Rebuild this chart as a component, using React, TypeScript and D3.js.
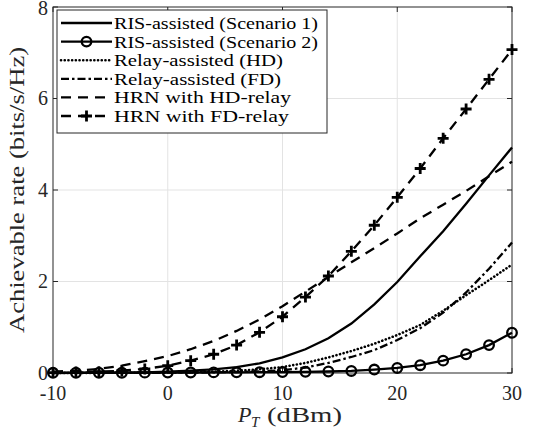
import React from 'react';
import * as d3 from 'd3';

// transmit power grid (dBm)
const powerDbm = [-10, -8, -6, -4, -2, 0, 2, 4, 6, 8, 10, 12, 14, 16, 18, 20, 22, 24, 26, 28, 30];

const risScenario1 = [0.0, 0.002, 0.004, 0.008, 0.015, 0.03, 0.05, 0.08, 0.13, 0.21, 0.34, 0.52, 0.76, 1.08, 1.5, 1.99, 2.55, 3.1, 3.7, 4.32, 4.93];
const risScenario2 = [0.004, 0.005, 0.006, 0.007, 0.008, 0.01, 0.011, 0.013, 0.015, 0.018, 0.021, 0.026, 0.033, 0.045, 0.075, 0.11, 0.17, 0.27, 0.41, 0.61, 0.88];
const relayHD = [0.001, 0.002, 0.003, 0.005, 0.008, 0.012, 0.02, 0.03, 0.05, 0.08, 0.13, 0.22, 0.34, 0.48, 0.64, 0.83, 1.05, 1.36, 1.7, 2.03, 2.37];
const relayFD = [0.0005, 0.001, 0.002, 0.003, 0.004, 0.006, 0.009, 0.014, 0.02, 0.035, 0.06, 0.12, 0.22, 0.35, 0.5, 0.72, 0.98, 1.32, 1.76, 2.28, 2.85];
const hrnHD = [0.03, 0.05, 0.09, 0.16, 0.26, 0.37, 0.52, 0.7, 0.92, 1.17, 1.46, 1.78, 2.1, 2.42, 2.73, 3.05, 3.38, 3.68, 3.98, 4.3, 4.62];
const hrnFD = [0.01, 0.02, 0.03, 0.05, 0.09, 0.16, 0.27, 0.41, 0.61, 0.89, 1.23, 1.66, 2.12, 2.66, 3.23, 3.84, 4.47, 5.13, 5.77, 6.42, 7.07];

const xTicks = [-10, 0, 10, 20, 30];
const yTicks = [0, 2, 4, 6, 8];

const seriesNames = [
    'RIS-assisted (Scenario 1)',
    'RIS-assisted (Scenario 2)',
    'Relay-assisted (HD)',
    'Relay-assisted (FD)',
    'HRN with HD-relay',
    'HRN with FD-relay',
];
// rendered widths of the legend labels (the original font is wider than ours)
const legendWidths = [204, 204, 169, 167, 177, 175];

const W = 550;
const H = 436;
const FONT = '"Liberation Serif", "DejaVu Serif", serif';
const INK = '#262626';

type Marker = 'none' | 'circle' | 'plus';

const series: { name: string; values: number[]; dash: string; marker: Marker }[] = [
    { name: seriesNames[0], values: risScenario1, dash: '', marker: 'none' },
    { name: seriesNames[1], values: risScenario2, dash: '', marker: 'circle' },
    { name: seriesNames[2], values: relayHD, dash: '0.1,3.6', marker: 'none' },
    { name: seriesNames[3], values: relayFD, dash: '8,3,2.5,3', marker: 'none' },
    { name: seriesNames[4], values: hrnHD, dash: '10,7', marker: 'none' },
    { name: seriesNames[5], values: hrnFD, dash: '10,7', marker: 'plus' },
];

function MarkerShape({ kind, x, y }: { kind: Marker; x: number; y: number }) {
    if (kind === 'circle') {
        return <circle cx={x} cy={y} r={4.8} fill="none" stroke="#000" strokeWidth={2.3} />;
    }
    if (kind === 'plus') {
        const s = 5.5;
        return (
            <path
                d={`M${x - s},${y}H${x + s}M${x},${y - s}V${y + s}`}
                stroke="#000"
                strokeWidth={2.8}
                fill="none"
            />
        );
    }
    return null;
}

export default function App() {
    const x = d3.scaleLinear().domain([-10, 30]).range([53, 512]);
    const y = d3.scaleLinear().domain([0, 8]).range([373, 7]);

    const line = d3
        .line<number>()
        .x((_, i) => x(powerDbm[i]))
        .y((d) => y(d));

    const [x0, x1] = x.range();
    const [y0, y1] = y.range();
    const tickLen = 5;

    // legend box
    const lg = { left: 57, top: 10, right: 327, bottom: 133 };
    const rowH = 18.6;
    const firstRow = 23;

    return (
        <svg
            width={W}
            height={H}
            viewBox={`0 0 ${W} ${H}`}
            style={{ position: 'absolute', left: 0, top: 0, background: '#fff' }}
            fontFamily={FONT}
        >
            <rect width={W} height={H} fill="#fff" />

            {/* grid */}
            {xTicks.slice(1, -1).map((t) => (
                <line key={`gx${t}`} x1={x(t)} x2={x(t)} y1={y0} y2={y1} stroke="#e3e3e3" strokeWidth={1} />
            ))}
            {yTicks.slice(1, -1).map((t) => (
                <line key={`gy${t}`} x1={x0} x2={x1} y1={y(t)} y2={y(t)} stroke="#e3e3e3" strokeWidth={1} />
            ))}

            {/* box + inward ticks */}
            <rect x={x0} y={y1} width={x1 - x0} height={y0 - y1} fill="none" stroke={INK} strokeWidth={1} />
            {xTicks.map((t) => (
                <g key={`tx${t}`}>
                    <line x1={x(t)} x2={x(t)} y1={y0} y2={y0 - tickLen} stroke={INK} />
                    <line x1={x(t)} x2={x(t)} y1={y1} y2={y1 + tickLen} stroke={INK} />
                    <text x={x(t)} y={y0 + 27} textAnchor="middle" fontSize={20} fill={INK}>
                        {t}
                    </text>
                </g>
            ))}
            {yTicks.map((t) => (
                <g key={`ty${t}`}>
                    <line x1={x0} x2={x0 + tickLen} y1={y(t)} y2={y(t)} stroke={INK} />
                    <line x1={x1} x2={x1 - tickLen} y1={y(t)} y2={y(t)} stroke={INK} />
                    <text x={x0 - 5} y={Math.max(y(t) + 6.5, 15)} textAnchor="end" fontSize={20} fill={INK}>
                        {t}
                    </text>
                </g>
            ))}

            {/* axis labels */}
            <text x={238} y={y0 + 49} fontSize={22} fontStyle="italic" fill={INK}>
                P
            </text>
            <text x={251} y={y0 + 54} fontSize={15} fontStyle="italic" fill={INK}>
                T
            </text>
            <text
                x={267}
                y={y0 + 49}
                fontSize={22}
                textLength={75}
                lengthAdjust="spacingAndGlyphs"
                fill={INK}
            >
                (dBm)
            </text>
            <text
                transform={`translate(24,${(y0 + y1) / 2}) rotate(-90)`}
                textAnchor="middle"
                fontSize={20}
                textLength={286}
                lengthAdjust="spacingAndGlyphs"
                fill={INK}
            >
                Achievable rate (bits/s/Hz)
            </text>

            {/* series */}
            {series.map((s, si) => (
                <g key={s.name}>
                    <path
                        d={line(s.values) ?? ''}
                        fill="none"
                        stroke="#000"
                        strokeWidth={si === 2 ? 2.6 : 2.3}
                        strokeDasharray={s.dash || undefined}
                        strokeLinecap={si === 2 ? 'round' : 'butt'}
                    />
                    {s.marker !== 'none' &&
                        s.values.map((v, i) => <MarkerShape key={i} kind={s.marker} x={x(powerDbm[i])} y={y(v)} />)}
                </g>
            ))}

            {/* legend */}
            <rect
                x={lg.left}
                y={lg.top}
                width={lg.right - lg.left}
                height={lg.bottom - lg.top}
                fill="#fff"
                stroke={INK}
                strokeWidth={1}
            />
            {series.map((s, i) => {
                const cy = firstRow + rowH * i;
                const lx0 = lg.left + 4;
                const lx1 = lg.left + 55;
                return (
                    <g key={`lg${i}`}>
                        <line
                            x1={lx0}
                            x2={lx1}
                            y1={cy}
                            y2={cy}
                            stroke="#000"
                            strokeWidth={i === 2 ? 2.6 : 2.3}
                            strokeDasharray={s.dash || undefined}
                            strokeLinecap={i === 2 ? 'round' : 'butt'}
                        />
                        {s.marker !== 'none' && <MarkerShape kind={s.marker} x={(lx0 + lx1) / 2} y={cy} />}
                        <text
                            x={lg.left + 57}
                            y={cy + 6}
                            fontSize={17.5}
                            textLength={legendWidths[i]}
                            lengthAdjust="spacingAndGlyphs"
                            fill="#000"
                        >
                            {s.name}
                        </text>
                    </g>
                );
            })}
        </svg>
    );
}
